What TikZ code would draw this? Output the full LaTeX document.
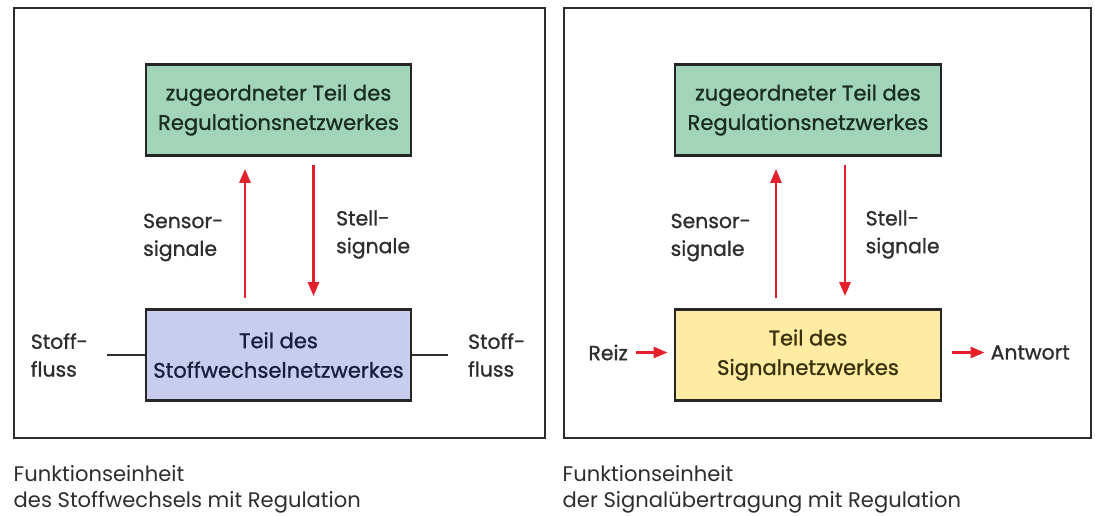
\documentclass[tikz,border=0pt]{standalone}
\usepackage{fontspec}
\setmainfont{Poppins}
\newfontfamily\medfont{Poppins}[FakeBold=1.0]
\usetikzlibrary{arrows.meta,positioning}

\definecolor{regGreen}{RGB}{162,212,186}
\definecolor{metBlue}{RGB}{200,205,238}
\definecolor{sigYellow}{RGB}{255,236,162}
\definecolor{sigRed}{RGB}{228,32,44}
\definecolor{inkGray}{RGB}{45,45,45}

\tikzset{
  panel/.style={draw=inkGray, line width=1.1pt},
  netbox/.style={draw=black!85, line width=1.6pt, minimum width=5.3cm,
    minimum height=1.82cm, align=center, font=\medfont\fontsize{12}{16.8}\selectfont},
  sig/.style={draw=sigRed, line width=1.5pt, -{Triangle[length=2.8mm,width=2.2mm]}},
  flow/.style={draw=inkGray, line width=1.4pt},
  lbl/.style={align=left, text=inkGray, font=\medfont\fontsize{11.6}{15.8}\selectfont},
  caption/.style={align=left, text=inkGray, font=\fontsize{12}{15}\selectfont},
}

\begin{document}
\begin{tikzpicture}
    \useasboundingbox (0,0) rectangle (21.9,-10.3);

    % Frames of the two panels
    \draw[panel] (0.28,-0.16) rectangle (10.9,-8.76);
    \draw[panel] (11.28,-0.16) rectangle (21.82,-8.76);

    % Left panel: metabolism with regulation
    \node[netbox, fill=regGreen, text={rgb,255:red,25;green,45;blue,35}] (regL) at (5.57,-2.2)
        {zugeordneter Teil des\\Regulationsnetzwerkes};
    \node[netbox, fill=metBlue, text={rgb,255:red,25;green,30;blue,60}] (metL) at (5.57,-7.1)
        {Teil des\\Stoffwechselnetzwerkes};
    \draw[sig] ([xshift=-0.67cm, yshift=0.2cm]metL.north) -- ([xshift=-0.67cm, yshift=-0.24cm]regL.south)
        node[midway, left=0.29cm, yshift=-0.08cm, lbl] (sensL) {Sensor-\\signale};
    \draw[sig] ([xshift=0.7cm, yshift=-0.16cm]regL.south) -- ([xshift=0.7cm, yshift=0.24cm]metL.north)
        node[midway, right=0.31cm, yshift=-0.08cm, lbl] (stellL) {Stell-\\signale};

    % Material flow in and out
    \draw[flow] (metL.west) -- ++(-0.76,0) coordinate (fluxInL);
    \draw[flow] (metL.east) -- ++(0.72,0) coordinate (fluxOutL);
    \node[lbl, left=0.25cm of fluxInL] (stoffInL) {Stoff-\\fluss};
    \node[lbl, right=0.27cm of fluxOutL] (stoffOutL) {Stoff-\\fluss};

    % Right panel: signal transduction with regulation
    \node[netbox, fill=regGreen, text={rgb,255:red,25;green,45;blue,35}, minimum width=5.32cm] (regR) at (16.16,-2.2)
        {zugeordneter Teil des\\Regulationsnetzwerkes};
    \node[netbox, fill=sigYellow, text={rgb,255:red,55;green,48;blue,10}, minimum width=5.32cm] (sigR) at (16.16,-7.1)
        {Teil des\\Signalnetzwerkes};
    \draw[sig] ([xshift=-0.64cm, yshift=0.2cm]sigR.north) -- ([xshift=-0.64cm, yshift=-0.24cm]regR.south)
        node[midway, left=0.36cm, yshift=-0.08cm, lbl] (sensR) {Sensor-\\signale};
    \draw[sig] ([xshift=0.74cm, yshift=-0.16cm]regR.south) -- ([xshift=0.74cm, yshift=0.24cm]sigR.north)
        node[midway, right=0.27cm, yshift=-0.08cm, lbl] (stellR) {Stell-\\signale};

    % Stimulus and response
    \node[lbl, anchor=east] (reiz) at (12.68,-7.05) {Reiz};
    \node[lbl, anchor=west] (antwort) at (19.69,-7.05) {Antwort};
    \draw[sig, shorten <=0.04cm, shorten >=0.12cm] (reiz.east) -- (reiz.east -| sigR.west);
    \draw[sig, shorten <=0.2cm] (antwort.west -| sigR.east) -- (antwort.west);

    % Captions
    \node[caption, anchor=west] (capL) at (0.15,-9.78)
        {Funktionseinheit\\des Stoffwechsels mit Regulation};
    \node[caption, anchor=west] (capR) at (11.13,-9.78)
        {Funktionseinheit\\der Signalübertragung mit Regulation};
\end{tikzpicture}
\end{document}
